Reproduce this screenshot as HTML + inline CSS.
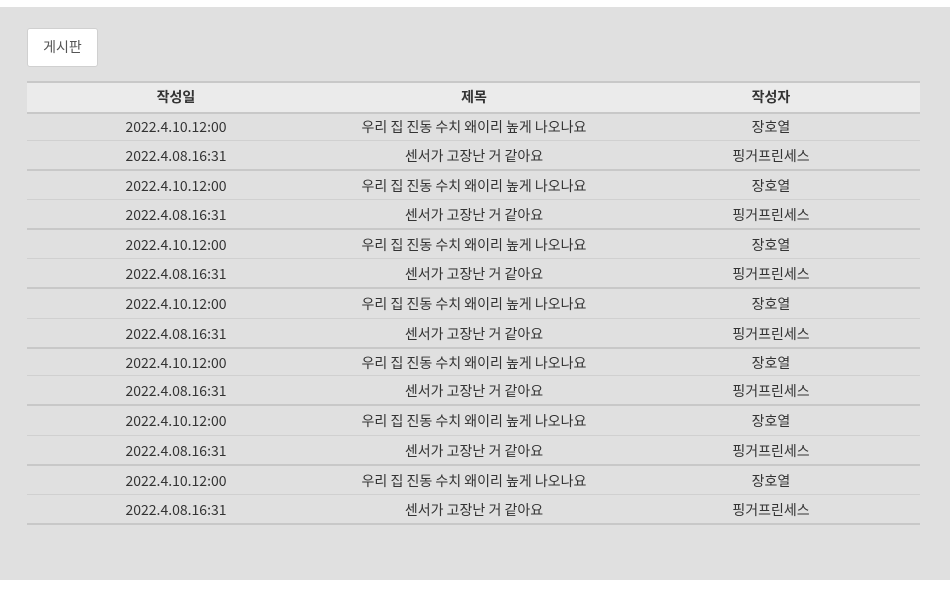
<!DOCTYPE html>
<html><head><meta charset="utf-8"><style>
body{margin:0;width:950px;height:594px;background:#fff;position:relative;overflow:hidden;font-family:"Noto Sans CJK KR","Liberation Sans",sans-serif;color:#333;}
#panel{position:absolute;left:0;top:7px;width:950px;height:573px;background:#e0e0e0;}
#btn{position:absolute;left:27px;top:28px;width:69px;height:37px;background:#fff;border:1px solid #d0d0d0;border-radius:3px;font-size:14px;line-height:37px;text-align:center;color:#555;}
.row{position:absolute;left:27px;width:893px;font-size:14px;}
.row div{position:absolute;top:1px;width:298px;text-align:center;}
.c1{left:0}.c2{left:298px}.c3{left:595px}
.hdr{background:#ebebeb;font-weight:bold;border-top:2px solid #c8c8c8;}
</style></head><body>
<div id="panel"></div>
<div id="btn">게시판</div>
<div id="tbl"></div>
<script>
const bounds=[[81,112],[112,141],[141,171],[171,200],[200,230],[230,259],[259,289],[289,319],[319,349],[349,376],[376,406],[406,436],[436,466],[466,495],[495,525]];
const header=["작성일","제목","작성자"];
const rowA=["2022.4.10.12:00","우리 집 진동 수치 왜이리 높게 나오나요","장호열"];
const rowB=["2022.4.08.16:31","센서가 고장난 거 같아요","핑거프린세스"];
const tbl=document.getElementById('tbl');
bounds.forEach((b,i)=>{
  const r=document.createElement('div');
  r.className='row'+(i===0?' hdr':'');
  
  
  const h=b[1]-b[0];
  const thick=(i===0||i%2===0);
  r.style.top=b[0]+'px';
  r.style.height=(h-(thick?2:1))+'px';
  r.style.borderBottom=(thick?'2px solid #c8c8c8':'1px solid #d0d0d0');
  const data=i===0?header:(i%2===1?rowA:rowB);
  data.forEach((t,j)=>{
    const c=document.createElement('div');
    c.className='c'+(j+1);
    
    
    c.style.lineHeight=(h-(thick?2:1)-(i===0?2:0))+'px';
    c.textContent=t;
    r.appendChild(c);
  });
  tbl.appendChild(r);
});
</script>
</body></html>
